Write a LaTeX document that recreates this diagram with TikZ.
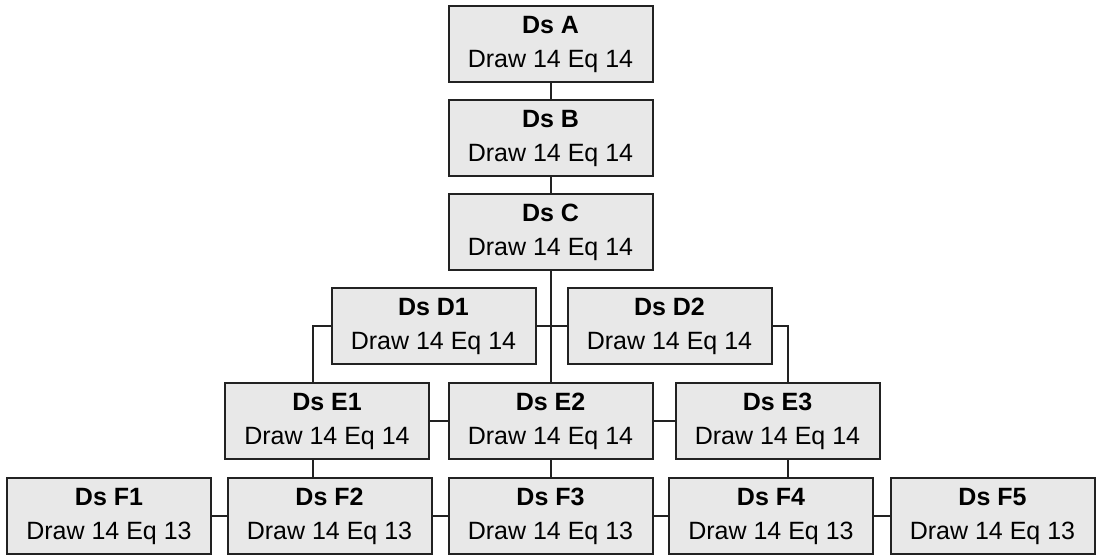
\documentclass[tikz,border=0pt]{standalone}
\usepackage{fontspec}
\setmainfont{Liberation Sans}
\definecolor{boxfill}{HTML}{E8E8E8}
\definecolor{boxline}{HTML}{222222}
\tikzset{
  dsbox/.style={draw=boxline, fill=boxfill, line width=2pt, minimum width=204pt,
    minimum height=76pt, inner sep=0pt, align=center,
    font=\fontsize{25}{34}\selectfont},
  link/.style={draw=boxline, line width=2pt}
}
\newcommand{\dsl}[2]{{\bfseries Ds #1}\\Draw 14 Eq #2}
\begin{document}
\begin{tikzpicture}[x=1pt,y=-1pt]
\useasboundingbox (0,0) rectangle (1096,555);
\node[dsbox] (A) at (550.5,44) {\dsl{A}{14}};
\node[dsbox] (B) at (550.5,138) {\dsl{B}{14}};
\node[dsbox] (C) at (550.5,232) {\dsl{C}{14}};
\node[dsbox] (D1) at (433.5,326) {\dsl{D1}{14}};
\node[dsbox] (D2) at (669.5,326) {\dsl{D2}{14}};
\node[dsbox] (E1) at (327,421) {\dsl{E1}{14}};
\node[dsbox] (E2) at (550.5,421) {\dsl{E2}{14}};
\node[dsbox] (E3) at (777.5,421) {\dsl{E3}{14}};
\node[dsbox] (F1) at (109,516) {\dsl{F1}{13}};
\node[dsbox] (F2) at (329.5,516) {\dsl{F2}{13}};
\node[dsbox] (F3) at (550.5,516) {\dsl{F3}{13}};
\node[dsbox] (F4) at (771,516) {\dsl{F4}{13}};
\node[dsbox] (F5) at (992.5,516) {\dsl{F5}{13}};
% stem
\draw[link] (A) -- (B);
\draw[link] (B) -- (C);
\draw[link] (C) -- (E2);
% D row
\draw[link] (D1) -- (D2);
\draw[link] (D1.west) -| ([xshift=-14pt]E1.north);
\draw[link] (D2.east) -| ([xshift=10.5pt]E3.north);
% E row
\draw[link] (E1) -- (E2);
\draw[link] (E2) -- (E3);
\draw[link] ([xshift=-14pt]E1.south) -- ([xshift=-14pt]E1.south |- F2.north);
\draw[link] (E2) -- (F3);
\draw[link] ([xshift=10.5pt]E3.south) -- ([xshift=10.5pt]E3.south |- F4.north);
% F row
\draw[link] (F1) -- (F2);
\draw[link] (F2) -- (F3);
\draw[link] (F3) -- (F4);
\draw[link] (F4) -- (F5);
\end{tikzpicture}
\end{document}
